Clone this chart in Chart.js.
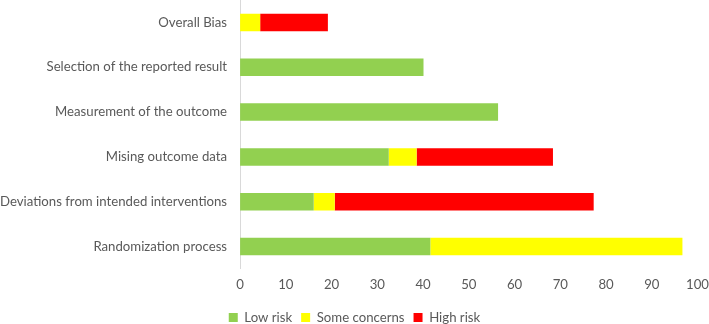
<!DOCTYPE html>
<html>
<head>
<meta charset="utf-8">
<script src="https://cdn.jsdelivr.net/npm/chart.js@4/dist/chart.umd.min.js"></script>
<style>
  html, body { margin: 0; padding: 0; background: #fff; overflow: hidden; }
</style>
</head>
<body>
<canvas id="myChart" width="709" height="334"></canvas>
<script>
const domains = [
  "Overall Bias",
  "Selection of the reported result",
  "Measurement of the outcome",
  "Mising outcome data",
  "Deviations from intended interventions",
  "Randomization process",
];
const lowRisk = [0, 40.1, 56.4, 32.5, 16.1, 41.6];
const someConcerns = [4.4, 0, 0, 6.1, 4.6, 55.1];
const highRisk = [14.8, 0, 0, 29.8, 56.6, 0];
const xTicks = { min: 0, max: 100, step: 10 };

const textColor = "#595959";
const fontFamily = "Lato, 'Open Sans', sans-serif";

const ctx_1 = document.getElementById("myChart");

new Chart(ctx_1, {
  type: "bar",
  data: {
    labels: domains,
    datasets: [
      { label: "Low risk", data: lowRisk, backgroundColor: "#92d050" },
      { label: "Some concerns", data: someConcerns, backgroundColor: "#ffff00" },
      { label: "High risk", data: highRisk, backgroundColor: "#ff0000" },
    ],
  },
  options: {
    indexAxis: "y",
    responsive: false,
    animation: false,
    categoryPercentage: 1,
    barPercentage: 0.39,
    layout: { padding: 0 },
    scales: {
      x: {
        stacked: true,
        min: xTicks.min,
        max: xTicks.max,
        ticks: {
          stepSize: xTicks.step,
          color: textColor,
          font: { family: fontFamily, size: 13.2 },
          padding: 0,
        },
        grid: { display: false, drawTicks: true, tickLength: 8 },
        border: { display: false },
      },
      y: {
        stacked: true,
        ticks: {
          color: textColor,
          font: { family: fontFamily, size: 13.2 },
          padding: 0,
        },
        // tick marks hidden, their length only keeps the labels off the axis
        grid: { display: false, drawTicks: true, tickLength: 13 },
        border: { color: "#d9d9d9", width: 1 },
        afterFit: (scale) => {
          scale.paddingTop = 0;
          scale.paddingBottom = 0;
        },
      },
    },
    plugins: {
      legend: {
        position: "bottom",
        title: { display: true, text: "", font: { size: 5 }, padding: { top: 3, bottom: 0 } },
        labels: {
          color: textColor,
          boxWidth: 9,
          boxHeight: 9,
          padding: 9,
          font: { family: fontFamily, size: 13.2 },
        },
      },
      tooltip: { enabled: false },
    },
  },
});
</script>
</body>
</html>
